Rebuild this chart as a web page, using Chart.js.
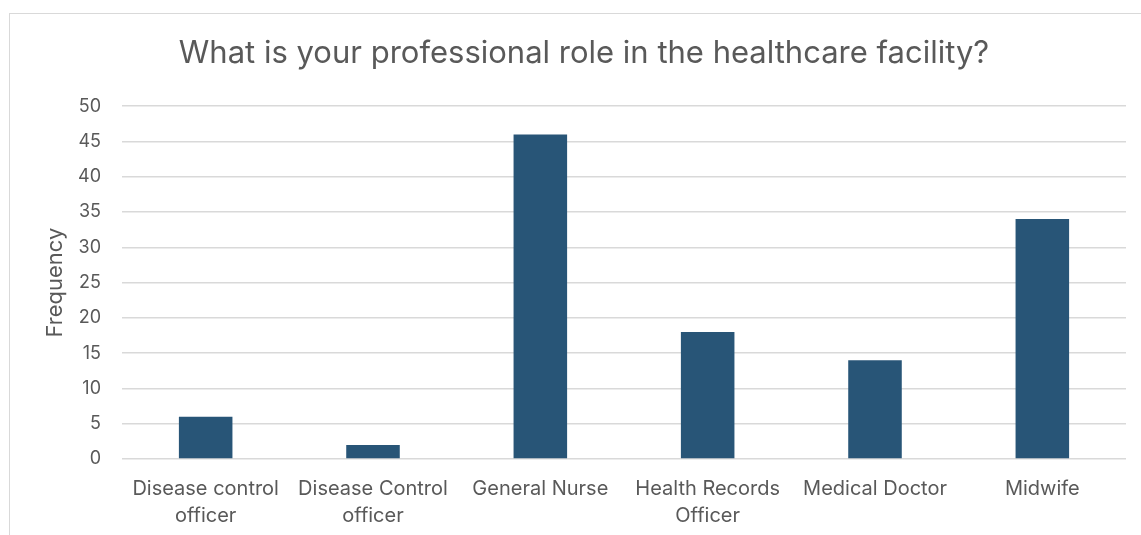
<!DOCTYPE html>
<html>
<head>
<meta charset="utf-8">
<script src="https://cdn.jsdelivr.net/npm/chart.js@4/dist/chart.umd.min.js"></script>
<style>
  html, body { margin: 0; padding: 0; background: #fff; overflow: hidden; }
  #frame {
    position: absolute; left: 9px; top: 13px;
    width: 1143px; height: 522px;
    border-left: 1px solid #d9d9d9; border-top: 1px solid #d9d9d9;
  }
  #chart { display: block; }
</style>
</head>
<body>
<div id="frame"><canvas id="chart" width="1143" height="522"></canvas></div>
<script>
const roles = [
  ['Disease control', 'officer'],
  ['Disease Control', 'officer'],
  'General Nurse',
  ['Health Records', 'Officer'],
  'Medical Doctor',
  'Midwife'
];
const frequency = [6, 2, 46, 18, 14, 34];
const yTicks = [0, 5, 10, 15, 20, 25, 30, 35, 40, 45, 50];

const textGray = '#595959';
const gridGray = '#d9d9d9';
const fontFamily = "Inter, 'Open Sans', 'Liberation Sans', sans-serif";

const ctx = document.getElementById('chart').getContext('2d');
new Chart(ctx, {
  type: 'bar',
  data: {
    labels: roles,
    datasets: [{
      label: 'Frequency',
      data: frequency,
      backgroundColor: '#285577',
      borderWidth: 0,
      barPercentage: 0.32,
      categoryPercentage: 1
    }]
  },
  options: {
    responsive: false,
    animation: false,
    layout: { padding: { left: 32, right: 27, bottom: 0 } },
    plugins: {
      legend: { display: false },
      tooltip: { enabled: false },
      title: {
        display: true,
        text: 'What is your professional role in the healthcare facility?',
        color: textGray,
        font: { family: fontFamily, size: 31, weight: 'normal' },
        padding: { top: 21, bottom: 34 }
      }
    },
    scales: {
      x: {
        grid: { display: false },
        border: { display: false },
        ticks: {
          color: textGray,
          font: { family: fontFamily, size: 20, lineHeight: 1.35 },
          maxRotation: 0,
          autoSkip: false,
          padding: 8
        },
        // labels may overhang the plot edges, like the original
        afterFit: axis => {
          axis.paddingLeft = 0;
          axis.paddingRight = 0;
          axis.height = 77;
        }
      },
      y: {
        min: 0,
        max: 50,
        afterBuildTicks: axis => { axis.ticks = yTicks.map(v => ({ value: v })); },
        afterFit: axis => { axis.width = 80; },
        grid: { color: gridGray, lineWidth: 1.5, drawTicks: false },
        border: { display: false },
        ticks: {
          color: textGray,
          font: { family: fontFamily, size: 18 },
          padding: 21
        },
        title: {
          display: true,
          text: 'Frequency',
          color: textGray,
          font: { family: fontFamily, size: 22 },
          padding: { top: 0, bottom: 10 }
        }
      }
    }
  }
});
</script>
</body>
</html>
